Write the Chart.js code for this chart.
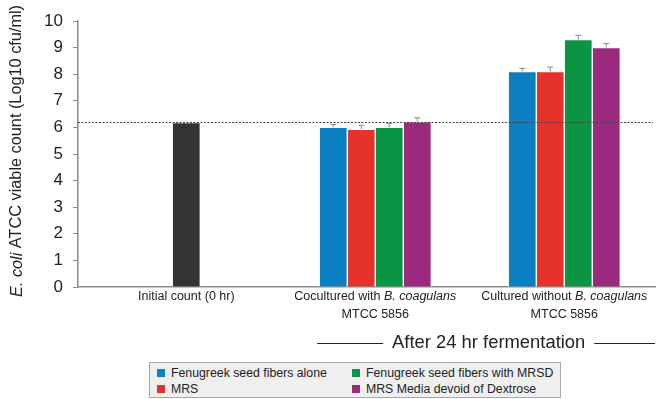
<!DOCTYPE html>
<html>
<head>
<meta charset="utf-8">
<script src="https://cdn.jsdelivr.net/npm/chart.js@4.4.1/dist/chart.umd.min.js"></script>
<style>
  body { margin: 0; background: #fff; }
  #wrap { position: relative; width: 656px; height: 399px; }
  #legend {
    position: absolute; left: 149px; top: 362px; width: 412px; height: 36px;
    background: #efefef; border: 1px solid #a8a8a8; box-sizing: border-box;
    font: 12.3px 'Liberation Sans', Arial, sans-serif; color: #222;
    display: grid; grid-template-columns: 195px 1fr; grid-auto-rows: 16px;
    padding: 2px 0 0 7px;
  }
  #legend span { display: flex; align-items: center; white-space: nowrap; }
  #legend i { display: inline-block; width: 8px; height: 8px; margin-right: 6px; }
</style>
</head>
<body>
<div id="wrap">
  <canvas id="chart" width="656" height="399"></canvas>
  <div id="legend"></div>
</div>
<script>
const FONT = "'Liberation Sans', Arial, sans-serif";

// category labels; *...* marks italic text, each entry is one line
const categories = [
  ["Initial count (0 hr)"],
  ["Cocultured with *B. coagulans*", "MTCC 5856"],
  ["Cultured without *B. coagulans*", "MTCC 5856"],
];

// log10 cfu/ml, one value per category (null = no bar)
const initialCount   = [6.18, null, null];
const fenugreekAlone = [null, 6.0, 8.1];
const mrs            = [null, 5.93, 8.1];
const fenugreekMrsd  = [null, 6.0, 9.3];
const mrsNoDextrose  = [null, 6.21, 9.0];

// standard deviations
const errAlone       = [null, 0.11, 0.12];
const errMrs         = [null, 0.15, 0.17];
const errMrsd        = [null, 0.15, 0.16];
const errNoDextrose  = [null, 0.15, 0.15];

const baselineLevel = 6.2;
const yTicks = [0, 1, 2, 3, 4, 5, 6, 7, 8, 9, 10];

const series = [
  { label: null, values: initialCount, errors: [null, null, null], color: "#333333" },
  { label: "Fenugreek seed fibers alone", values: fenugreekAlone, errors: errAlone, color: "#0a7fc1" },
  { label: "MRS", values: mrs, errors: errMrs, color: "#e5322b" },
  { label: "Fenugreek seed fibers with MRSD", values: fenugreekMrsd, errors: errMrsd, color: "#0a9444" },
  { label: "MRS Media devoid of Dextrose", values: mrsNoDextrose, errors: errNoDextrose, color: "#9b2a7e" },
];

// legend order: two columns, read row by row
const legendOrder = [1, 3, 2, 4];
document.getElementById("legend").innerHTML = legendOrder
  .map(k => `<span><i style="background:${series[k].color}"></i>${series[k].label}</span>`)
  .join("");

function drawRichLine(ctx, text, cx, cy, size) {
  const parts = text.split("*");
  const fonts = parts.map((_, k) => (k % 2 ? "italic " : "") + size + "px " + FONT);
  const widths = parts.map((p, k) => { ctx.font = fonts[k]; return ctx.measureText(p).width; });
  const total = widths.reduce((a, b) => a + b, 0);
  let x0 = cx - total / 2;
  ctx.textAlign = "left";
  ctx.textBaseline = "middle";
  parts.forEach((p, k) => { ctx.font = fonts[k]; ctx.fillText(p, x0, cy); x0 += widths[k]; });
  return total;
}

const overlay = {
  id: "overlay",
  afterDatasetsDraw(chart) {
    const { ctx, chartArea, scales: { y } } = chart;
    ctx.save();
    // error bars
    ctx.strokeStyle = "#8a8a8a";
    ctx.lineWidth = 1;
    chart.data.datasets.forEach((ds, di) => {
      chart.getDatasetMeta(di).data.forEach((bar, i) => {
        const v = ds.data[i].y, e = ds.errors[i];
        if (v == null || !e) return;
        const top = y.getPixelForValue(v + e);
        ctx.beginPath();
        ctx.moveTo(bar.x, bar.y); ctx.lineTo(bar.x, top);
        ctx.moveTo(bar.x - 3, top); ctx.lineTo(bar.x + 3, top);
        ctx.stroke();
      });
    });
    // dotted reference line at the initial level
    const yb = Math.round(y.getPixelForValue(baselineLevel)) + 0.5;
    ctx.strokeStyle = "#444";
    ctx.setLineDash([2, 1.5]);
    ctx.beginPath();
    ctx.moveTo(chartArea.left, yb);
    ctx.lineTo(chart.width - 3, yb);
    ctx.stroke();
    ctx.restore();
  },
  afterDraw(chart) {
    const { ctx, scales: { x } } = chart;
    ctx.save();
    ctx.fillStyle = "#222";
    // category labels
    categories.forEach((lines, i) => {
      const cx = x.getPixelForValue(i);
      lines.forEach((line, j) => drawRichLine(ctx, line, cx, 297 + j * 18, 12.5));
    });
    // axis title
    ctx.translate(17, 151);
    ctx.rotate(-Math.PI / 2);
    drawRichLine(ctx, "*E. coli* ATCC viable count (Log10 cfu/ml)", 0, 0, 16.3);
    ctx.setTransform(1, 0, 0, 1, 0, 0);
    // bracket caption for the 24 hr groups
    const cx = x.getPixelForValue(1.6), cy = 343;
    const w = drawRichLine(ctx, "After 24 hr fermentation", cx, cy, 18.4);
    ctx.strokeStyle = "#222";
    ctx.lineWidth = 1.2;
    ctx.beginPath();
    ctx.moveTo(cx - w / 2 - 9, cy + 0.5); ctx.lineTo(cx - w / 2 - 75, cy + 0.5);
    ctx.moveTo(cx + w / 2 + 9, cy + 0.5); ctx.lineTo(chart.width - 1, cy + 0.5);
    ctx.stroke();
    ctx.restore();
  },
};

Chart.defaults.font.family = FONT;

new Chart(document.getElementById("chart"), {
  type: "bar",
  data: {
    datasets: series.map(s => ({
      label: s.label,
      data: s.values.map((v, i) => ({ x: i, y: v })),
      errors: s.errors,
      backgroundColor: s.color,
      borderColor: "rgba(255,255,255,0.85)",
      borderWidth: 1,
      borderSkipped: "start",
      barThickness: 28,
      skipNull: true,
    })),
  },
  options: {
    responsive: false,
    animation: false,
    layout: { padding: { left: 0, top: 21, right: 1, bottom: 112 } },
    plugins: { legend: { display: false }, tooltip: { enabled: false } },
    scales: {
      x: {
        type: "linear",
        offset: false,
        bounds: "data",
        min: -0.573,
        max: 2.48,
        ticks: { display: false },
        grid: { display: false, drawTicks: false },
        border: { color: "#8c8c8c", width: 1.5 },
      },
      y: {
        min: 0,
        max: 10,
        afterBuildTicks: scale => { scale.ticks = yTicks.map(v => ({ value: v })); },
        afterFit: scale => { scale.width = 78; },
        ticks: { font: { size: 17 }, color: "#222", padding: 10 },
        grid: { drawOnChartArea: false, drawTicks: true, tickLength: 5, color: "#8c8c8c" },
        border: { color: "#8c8c8c", width: 1.5 },
      },
    },
  },
  plugins: [overlay],
});
</script>
</body>
</html>
